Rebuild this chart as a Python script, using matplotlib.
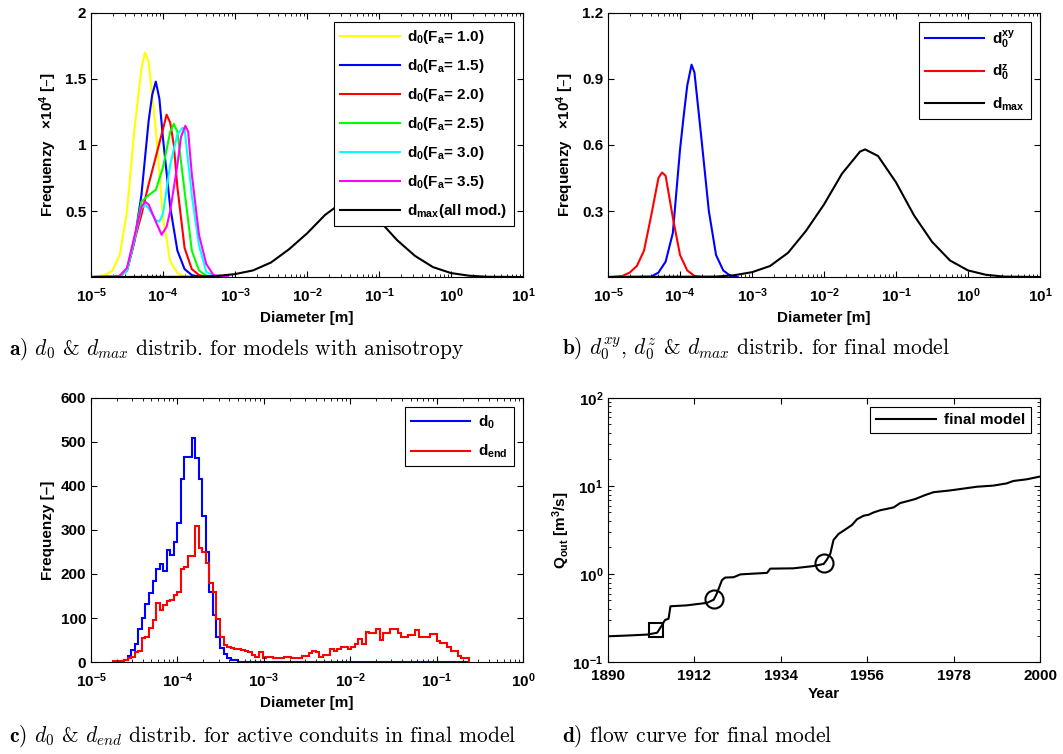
import matplotlib
matplotlib.use("Agg")
import matplotlib.pyplot as plt
import numpy as np
from matplotlib.ticker import LogLocator, NullFormatter

plt.rcParams["font.family"] = ["Liberation Sans", "DejaVu Sans"]
plt.rcParams["font.weight"] = "bold"
plt.rcParams["axes.labelweight"] = "bold"
plt.rcParams["font.size"] = 11
plt.rcParams["mathtext.default"] = "regular"
plt.rcParams["axes.linewidth"] = 0.8

# --- (a) initial diameters for the anisotropy runs, frequency x 10^4 vs log10(d) ---
logd_fa10 = [-5.0, -4.9, -4.8, -4.7, -4.6, -4.5, -4.4, -4.3, -4.25, -4.2, -4.1, -4.0, -3.9, -3.8, -3.7, -3.5]
freq_fa10 = [0, 0.005, 0.015, 0.05, 0.17, 0.5, 1.1, 1.58, 1.70, 1.63, 1.12, 0.45, 0.12, 0.03, 0.005, 0]

logd_fa15 = [-5.0, -4.6, -4.5, -4.4, -4.3, -4.2, -4.15, -4.1, -4.05, -4.0, -3.9, -3.8, -3.7, -3.6, -3.5, -3.3]
freq_fa15 = [0, 0.005, 0.05, 0.26, 0.62, 1.18, 1.38, 1.48, 1.35, 1.05, 0.53, 0.2, 0.06, 0.015, 0.003, 0]

logd_fa20 = [-5.0, -4.6, -4.5, -4.4, -4.3, -4.2, -4.1, -4.0, -3.95, -3.9, -3.85, -3.8, -3.7, -3.6, -3.5, -3.4, -3.2]
freq_fa20 = [0, 0.005, 0.05, 0.27, 0.47, 0.70, 0.91, 1.12, 1.23, 1.17, 1.0, 0.68, 0.22, 0.06, 0.015, 0.003, 0]

logd_fa25 = [-5.0, -4.6, -4.5, -4.4, -4.3, -4.2, -4.1, -4.0, -3.9, -3.85, -3.8, -3.7, -3.6, -3.5, -3.4, -3.2]
freq_fa25 = [0, 0.005, 0.05, 0.28, 0.57, 0.62, 0.66, 0.83, 1.1, 1.16, 1.1, 0.65, 0.2, 0.05, 0.01, 0]

logd_fa30 = [-5.0, -4.6, -4.5, -4.4, -4.3, -4.25, -4.2, -4.1, -4.05, -4.0, -3.9, -3.8, -3.73, -3.7, -3.6, -3.5, -3.4, -3.3, -3.1]
freq_fa30 = [0, 0.005, 0.05, 0.28, 0.52, 0.55, 0.52, 0.43, 0.42, 0.48, 0.85, 1.08, 1.13, 1.12, 0.62, 0.24, 0.04, 0.01, 0]

logd_fa35 = [-5.0, -4.7, -4.6, -4.5, -4.4, -4.3, -4.25, -4.2, -4.1, -4.02, -3.95, -3.9, -3.8, -3.75, -3.69, -3.65, -3.6, -3.5, -3.4, -3.3, -3.1]
freq_fa35 = [0, 0.002, 0.01, 0.07, 0.3, 0.53, 0.57, 0.55, 0.42, 0.32, 0.38, 0.5, 0.85, 1.06, 1.146, 1.1, 0.78, 0.32, 0.1, 0.015, 0]

logd_dmax = [-5.0, -3.5, -3.25, -3.0, -2.75, -2.5, -2.25, -2.0, -1.75, -1.5, -1.43, -1.25, -1.0, -0.75, -0.5, -0.25, 0.0, 0.25, 0.5, 1.0]
freq_dmax = [0, 0.002, 0.008, 0.022, 0.05, 0.11, 0.21, 0.33, 0.47, 0.57, 0.58, 0.55, 0.43, 0.28, 0.16, 0.075, 0.03, 0.01, 0.002, 0]

fa_series = [
    ("1.0", logd_fa10, freq_fa10, "#ffff00"),
    ("1.5", logd_fa15, freq_fa15, "#0000ff"),
    ("2.0", logd_fa20, freq_fa20, "#ff0000"),
    ("2.5", logd_fa25, freq_fa25, "#00ff00"),
    ("3.0", logd_fa30, freq_fa30, "#00ffff"),
    ("3.5", logd_fa35, freq_fa35, "#ff00ff"),
]

# --- (b) final model: horizontal / vertical initial diameters ---
logd_xy = [-5.0, -4.4, -4.3, -4.2, -4.1, -4.0, -3.95, -3.9, -3.84, -3.8, -3.7, -3.6, -3.5, -3.4, -3.3, -3.2]
freq_xy = [0, 0.002, 0.02, 0.07, 0.2, 0.58, 0.73, 0.87, 0.965, 0.93, 0.62, 0.3, 0.1, 0.03, 0.005, 0]

logd_z = [-5.0, -4.9, -4.8, -4.7, -4.6, -4.5, -4.4, -4.3, -4.25, -4.2, -4.1, -4.0, -3.9, -3.8, -3.7]
freq_z = [0, 0.002, 0.005, 0.02, 0.05, 0.12, 0.28, 0.45, 0.475, 0.46, 0.27, 0.1, 0.03, 0.005, 0]

# --- (c) active conduits, 100 log bins ---
hist_log_min, hist_log_max = -4.74, -0.63
count_d0 = [
    0, 0, 2, 5, 13, 27, 40, 76, 99, 132,
    156, 183, 211, 223, 206, 255, 244, 272, 316, 415,
    466, 466, 509, 463, 415, 331, 251, 160, 107, 57,
    32, 18, 8, 5, 5, 0, 0, 0, 0, 0,
    0, 0, 0, 0, 0, 0, 0, 0, 0, 0,
    0, 0, 0, 0, 0, 0, 0, 0, 0, 0,
    0, 0, 0, 0, 0, 0, 0, 0, 0, 0,
    0, 0, 0, 0, 0, 0, 0, 0, 0, 0,
    0, 0, 0, 0, 0, 0, 0, 0, 0, 0,
    0, 0, 0, 0, 0, 0, 0, 0, 0, 0,
]
count_dend = [
    2, 2, 3, 5, 8, 12, 23, 25, 54, 57,
    77, 95, 134, 118, 130, 139, 142, 152, 160, 211,
    217, 240, 242, 310, 259, 251, 225, 179, 160, 97,
    57, 38, 34, 32, 30, 29, 27, 25, 22, 15,
    11, 23, 10, 12, 12, 8, 8, 10, 12, 12,
    10, 10, 10, 14, 14, 21, 25, 23, 12, 17,
    17, 29, 25, 30, 33, 33, 30, 34, 40, 53,
    42, 68, 66, 66, 74, 50, 66, 67, 74, 74,
    66, 56, 56, 61, 61, 72, 57, 56, 56, 63,
    63, 47, 43, 43, 33, 25, 25, 14, 8, 9,
]

# --- (d) outflow of the final model ---
years = [1890, 1895, 1900, 1902.5, 1903.7, 1904.5, 1905.4, 1905.9, 1910, 1915.2, 1916.9,
         1917.7, 1919.0, 1919.8, 1922, 1923.7, 1930.5, 1931.3, 1937.2, 1942.3, 1944.9,
         1945.7, 1946.6, 1947.4, 1948.7, 1950.4, 1952.1, 1953.4, 1955.1, 1956.3, 1957.6,
         1959.3, 1962.7, 1964.4, 1966.1, 1968.2, 1970.8, 1972.9, 1977.1, 1983.9, 1988.1,
         1991.5, 1993.2, 1996.6, 2000]
q_out = [0.196, 0.200, 0.205, 0.215, 0.26, 0.30, 0.31, 0.43, 0.44, 0.47, 0.51,
         0.60, 0.85, 0.91, 0.92, 0.99, 1.03, 1.15, 1.16, 1.23, 1.30,
         1.45, 1.7, 2.43, 2.85, 3.2, 3.6, 4.19, 4.6, 4.7, 5.0,
         5.3, 5.7, 6.4, 6.7, 7.1, 7.9, 8.5, 8.9, 9.8, 10.1,
         10.7, 11.4, 11.9, 12.8]
event_square = (1902.3, 0.23)
event_circles = ([1916.9, 1944.9], [0.52, 1.33])
year_ticks = [1890, 1912, 1934, 1956, 1978, 2000]

LW = 1.5


def box_axes(ax):
    ax.tick_params(which="both", direction="in", top=True, right=True, labelsize=11)
    ax.tick_params(which="major", length=4)
    ax.tick_params(which="minor", length=2)
    ax.tick_params(axis="x", which="major", pad=7)


def log_diameter_axis(ax, hi):
    ax.set_xscale("log")
    ax.set_xlim(1e-5, hi)
    ax.xaxis.set_major_locator(LogLocator(base=10, numticks=10))
    ax.xaxis.set_minor_locator(LogLocator(base=10, subs=np.arange(2, 10), numticks=10))
    ax.xaxis.set_minor_formatter(NullFormatter())
    ax.set_xlabel("Diameter [m]", labelpad=4)


def frame_legend(ax, **kw):
    leg = ax.legend(loc="upper right", fancybox=False, framealpha=1, edgecolor="black",
                    fontsize=11, handlelength=3.9, handletextpad=0.5,
                    borderaxespad=0.6, **kw)
    leg.get_frame().set_linewidth(0.8)
    return leg


fig = plt.figure(figsize=(10.63, 7.54), dpi=100)
ax_a = fig.add_axes([0.0856, 0.6326, 0.4064, 0.3502])
ax_b = fig.add_axes([0.5720, 0.6326, 0.4064, 0.3502])
ax_c = fig.add_axes([0.0856, 0.1220, 0.4064, 0.3502])
ax_d = fig.add_axes([0.5720, 0.1220, 0.4064, 0.3502])

# (a)
for fa, logd, freq, col in fa_series:
    ax_a.plot(10 ** np.array(logd), freq, color=col, lw=LW, label=f"d$_0$(F$_a$= {fa})")
ax_a.plot(10 ** np.array(logd_dmax), freq_dmax, color="black", lw=LW, label="d$_{max}$(all mod.)")
log_diameter_axis(ax_a, 10)
ax_a.set_ylim(0, 2)
ax_a.set_yticks([0.5, 1, 1.5, 2])
ax_a.set_yticklabels(["0.5", "1", "1.5", "2"])
ax_a.set_ylabel("Frequenzy   $\\times$10$^4$ [–]")
box_axes(ax_a)
frame_legend(ax_a, labelspacing=0.72)

# (b)
ax_b.plot(10 ** np.array(logd_xy), freq_xy, color="#0000ff", lw=LW, label="d$_0^{xy}$")
ax_b.plot(10 ** np.array(logd_z), freq_z, color="#ff0000", lw=LW, label="d$_0^{z}$")
ax_b.plot(10 ** np.array(logd_dmax), freq_dmax, color="black", lw=LW, label="d$_{max}$")
log_diameter_axis(ax_b, 10)
ax_b.set_ylim(0, 1.2)
ax_b.set_yticks([0.3, 0.6, 0.9, 1.2])
ax_b.set_yticklabels(["0.3", "0.6", "0.9", "1.2"])
ax_b.set_ylabel("Frequenzy   $\\times$10$^4$ [–]")
box_axes(ax_b)
frame_legend(ax_b, labelspacing=0.85)

# (c)
edges = np.logspace(hist_log_min, hist_log_max, len(count_d0) + 1)
ax_c.stairs(count_d0, edges, color="#0000ff", lw=LW, label="d$_0$")
ax_c.stairs(count_dend, edges, color="#ff0000", lw=LW, label="d$_{end}$")
log_diameter_axis(ax_c, 1)
ax_c.set_ylim(0, 600)
ax_c.set_yticks(range(0, 601, 100))
ax_c.set_ylabel("Frequenzy [–]")
box_axes(ax_c)
frame_legend(ax_c, labelspacing=0.8)

# (d)
ax_d.plot(years, q_out, color="black", lw=LW, label="final model")
ax_d.plot(*event_square, marker="s", ms=10, mfc="none", mec="black", mew=1.5, ls="none")
ax_d.plot(*event_circles, marker="o", ms=13, mfc="none", mec="black", mew=1.5, ls="none")
ax_d.set_yscale("log")
ax_d.set_ylim(0.1, 100)
ax_d.set_xlim(1890, 2000)
ax_d.set_xticks(year_ticks)
ax_d.set_xlabel("Year", labelpad=3)
ax_d.set_ylabel("Q$_{out}$ [m$^3$/s]", labelpad=0)
box_axes(ax_d)
ax_d.tick_params(axis="x", which="major", pad=5)
ax_d.legend(handles=ax_d.lines[:1], loc="upper right", fancybox=False, framealpha=1,
            edgecolor="black", fontsize=11, handlelength=3.9, handletextpad=0.5,
            borderaxespad=0.6).get_frame().set_linewidth(0.8)

# captions set in Computer Modern (cmr10 ships with matplotlib)
captions = [
    (0.008, 0.537, r"$\mathbf{a)}$ $\mathit{d}_0$ & $\mathit{d}_{\mathit{max}}$ distrib. for models with anisotropy"),
    (0.529, 0.537, r"$\mathbf{b)}$ $\mathit{d}_0^{\mathit{xy}}$, $\mathit{d}_0^{\mathit{z}}$ & $\mathit{d}_{\mathit{max}}$ distrib. for final model"),
    (0.008, 0.024, r"$\mathbf{c)}$ $\mathit{d}_0$ & $\mathit{d}_{\mathit{end}}$ distrib. for active conduits in final model"),
    (0.529, 0.024, r"$\mathbf{d)}$ flow curve for final model"),
]
for x, y, s in captions:
    fig.text(x, y, s, fontsize=15.5, family="cmr10", math_fontfamily="cm",
             fontweight="normal", va="center")

fig.savefig("out.png", dpi=100)
